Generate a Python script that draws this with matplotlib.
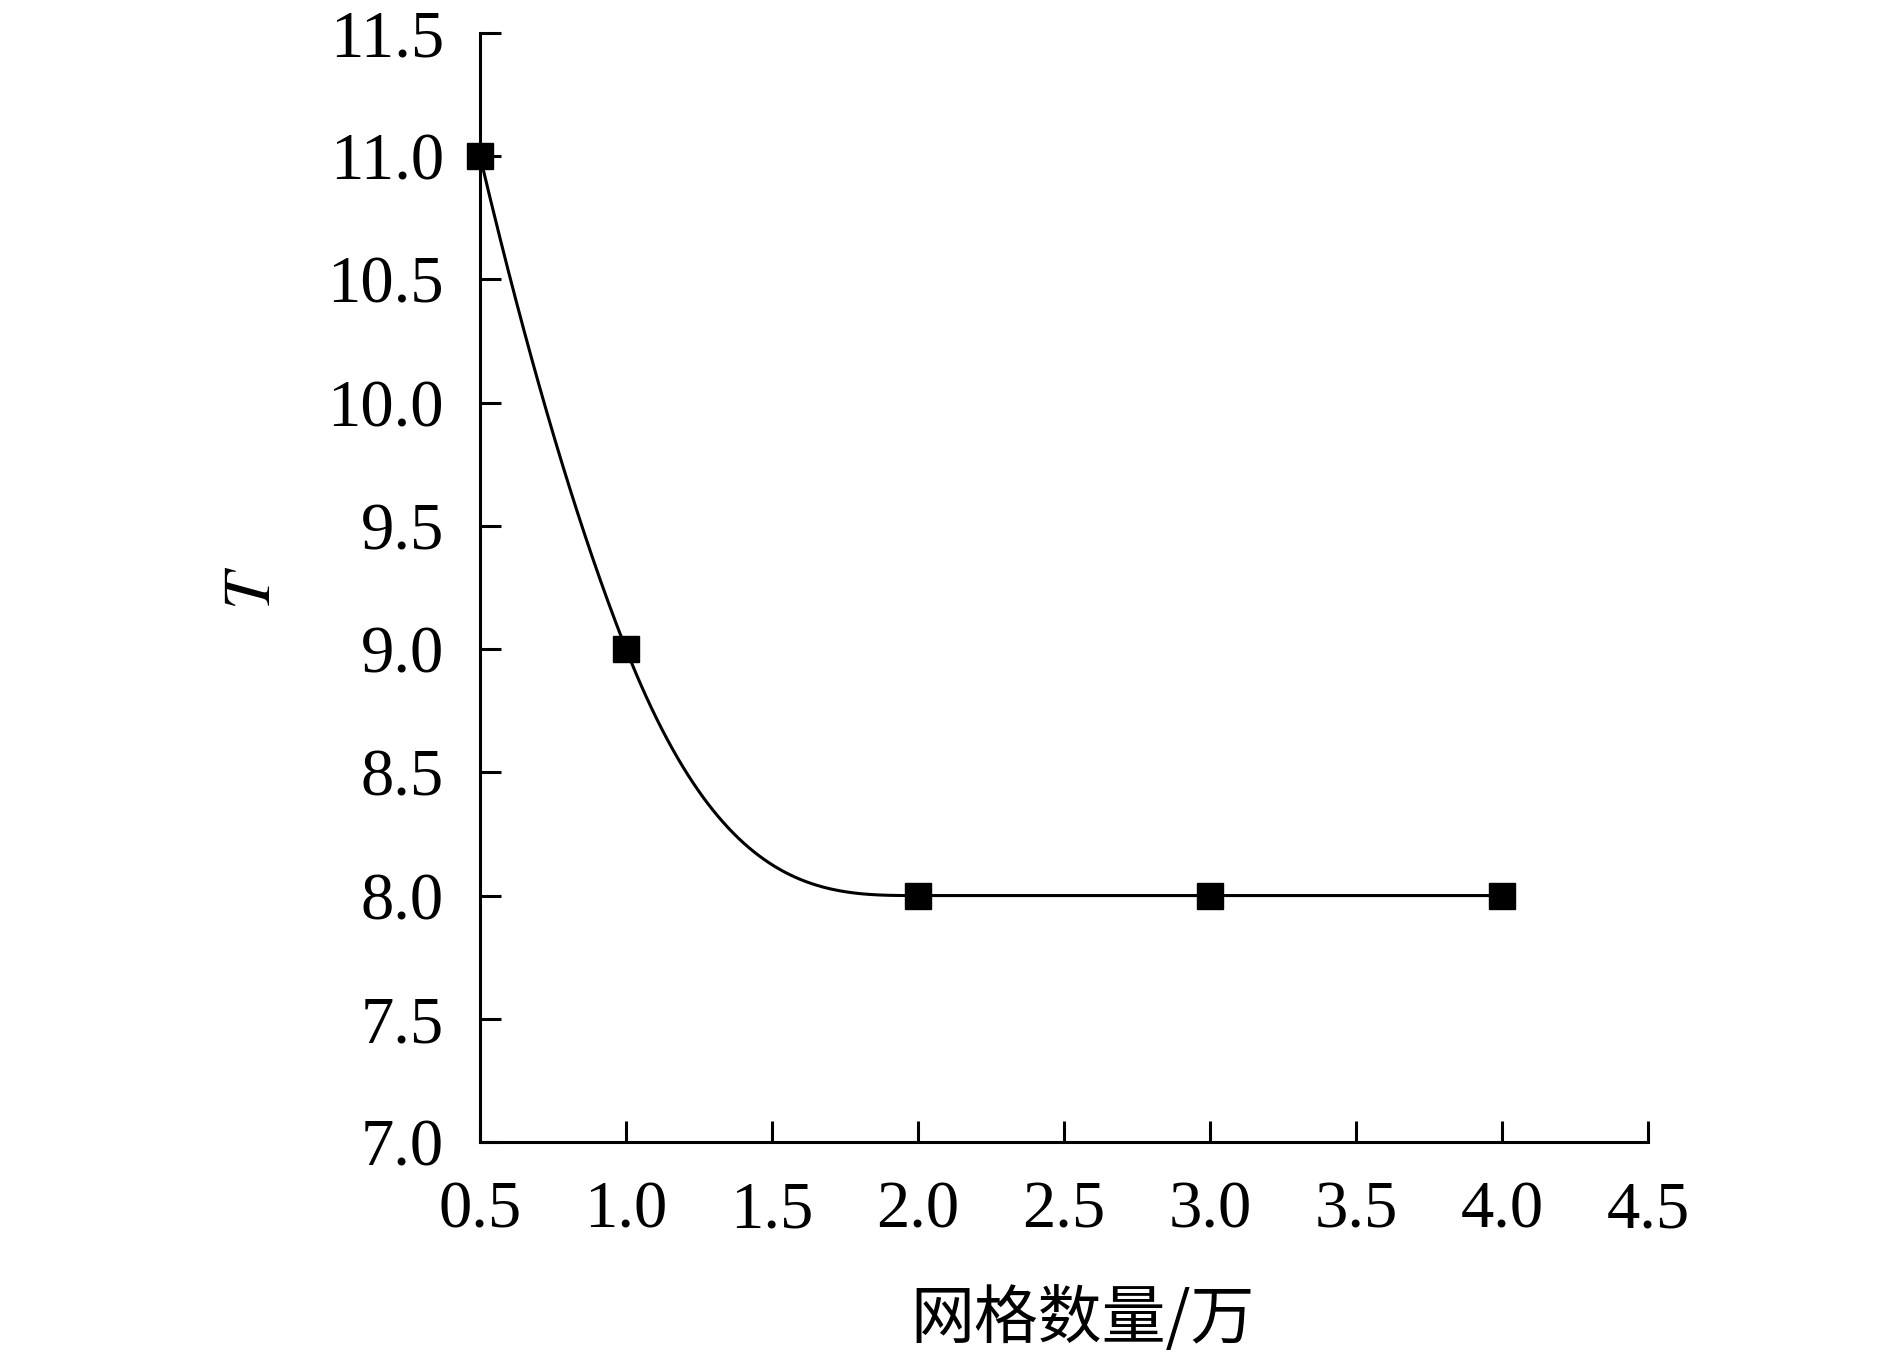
import numpy as np
from matplotlib import pyplot as plt

# grid count (x10^4) vs T
gridCount = [0.5, 1.0, 2.0, 3.0, 4.0]
tValues = [11.0, 9.0, 8.0, 8.0, 8.0]

xTicks = [0.5, 1.0, 1.5, 2.0, 2.5, 3.0, 3.5, 4.0, 4.5]
yTicks = [7.0, 7.5, 8.0, 8.5, 9.0, 9.5, 10.0, 10.5, 11.0, 11.5]


def smoothCurve(x, y, n=400):
    # cubic hermite through the points, Bessel slopes with monotone limiting
    x = np.asarray(x, float)
    y = np.asarray(y, float)
    h = np.diff(x)
    delta = np.diff(y) / h
    d = np.zeros_like(y)
    for k in range(1, len(x) - 1):
        if delta[k - 1] * delta[k] > 0:
            d[k] = (h[k] * delta[k - 1] + h[k - 1] * delta[k]) / (h[k - 1] + h[k])
            lim = 3 * min(abs(delta[k - 1]), abs(delta[k]))
            d[k] = np.sign(d[k]) * min(abs(d[k]), lim)
    d[0] = ((2 * h[0] + h[1]) * delta[0] - h[0] * delta[1]) / (h[0] + h[1])
    if np.sign(d[0]) != np.sign(delta[0]):
        d[0] = 0
    d[-1] = ((2 * h[-1] + h[-2]) * delta[-1] - h[-1] * delta[-2]) / (h[-1] + h[-2])
    if np.sign(d[-1]) != np.sign(delta[-1]):
        d[-1] = 0
    xs = np.linspace(x[0], x[-1], n)
    idx = np.clip(np.searchsorted(x, xs) - 1, 0, len(x) - 2)
    t = (xs - x[idx]) / h[idx]
    h00 = 2 * t**3 - 3 * t**2 + 1
    h10 = t**3 - 2 * t**2 + t
    h01 = -2 * t**3 + 3 * t**2
    h11 = t**3 - t**2
    ys = h00 * y[idx] + h10 * h[idx] * d[idx] + h01 * y[idx + 1] + h11 * h[idx] * d[idx + 1]
    return xs, ys


plt.rcParams['font.family'] = ['Liberation Serif', 'Noto Sans CJK SC']
plt.rcParams['mathtext.fontset'] = 'stix'

fig = plt.figure(figsize=(18.9, 13.6), dpi=100)
ax = fig.add_axes([0.254, 0.1603, 0.618, 0.8154])

curveX, curveY = smoothCurve(gridCount, tValues)
ax.plot(curveX, curveY, color='black', linewidth=2.2, zorder=2)
ax.plot(gridCount, tValues, linestyle='none', marker='s', markersize=19,
        color='black', zorder=3, clip_on=False)

ax.set_xlim(0.5, 4.5)
ax.set_ylim(7.0, 11.5)
ax.set_xticks(xTicks)
ax.set_yticks(yTicks)
ax.set_xticklabels(['%.1f' % v for v in xTicks])
ax.set_yticklabels(['%.1f' % v for v in yTicks])

ax.spines['top'].set_visible(False)
ax.spines['right'].set_visible(False)
ax.spines['left'].set_linewidth(2.2)
ax.spines['bottom'].set_linewidth(2.2)
ax.tick_params(direction='in', length=15, width=2.2, labelsize=48)
ax.tick_params(axis='y', pad=26)
ax.tick_params(axis='x', pad=28)

ax.set_xlabel('网格数量/万', fontsize=46, family=['Noto Sans CJK SC', 'Liberation Serif'],
              labelpad=32)
ax.xaxis.label.set_x(0.516)
ax.set_ylabel('$T$', fontsize=48, labelpad=31)

fig.savefig('out.png', dpi=100)
